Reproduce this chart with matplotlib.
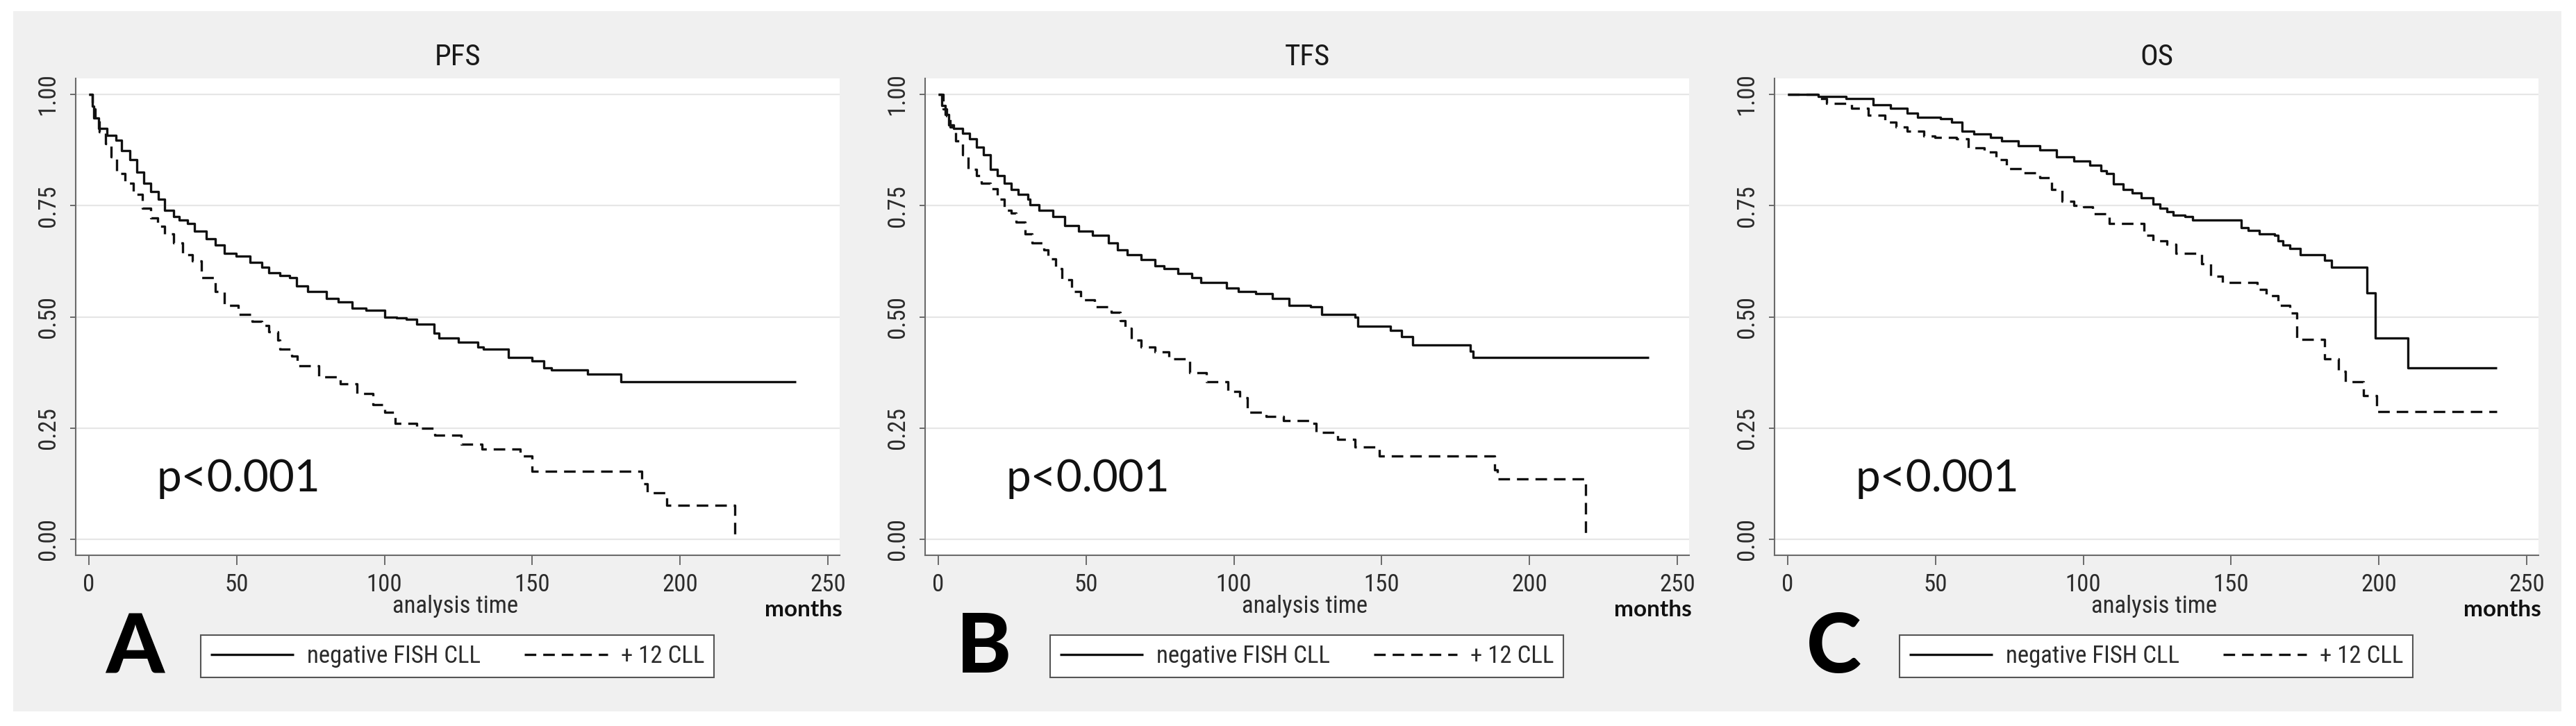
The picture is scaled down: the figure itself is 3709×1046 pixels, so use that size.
import matplotlib
matplotlib.use("Agg")
import matplotlib.pyplot as plt
from matplotlib.patches import Rectangle
from matplotlib import font_manager
from matplotlib.font_manager import FontProperties

# ---------------- data ----------------
titles = ["PFS", "TFS", "OS"]
panel_letters = ["A", "B", "C"]
legend_labels = ["negative FISH CLL", "+ 12 CLL"]
x_ticks = [0, 50, 100, 150, 200, 250]
y_ticks = [0.00, 0.25, 0.50, 0.75, 1.00]
y_ticklabels = ["0.00", "0.25", "0.50", "0.75", "1.00"]
p_text = "p<0.001"

pfs_neg_t = [0, 0.6, 1.1, 1.6, 3.2, 6.0, 9.1, 11.0, 13.8, 16.1, 18.5, 20.8, 23.6, 25.5, 28.7, 30.6,
             33.4, 35.7, 39.6, 42.7, 45.9, 49.8, 54.5, 58.4, 60.8, 64.7, 67.8, 70.2, 74.1, 80.4,
             84.3, 89.0, 93.7, 100.0, 104.0, 107.4, 111, 116.7, 118.5, 125, 131.5, 133.4, 141.8,
             150, 154, 156.6, 168.7, 180, 239.3]
pfs_neg_s = [1.0, 1.0, 0.973, 0.947, 0.923, 0.908, 0.897, 0.874, 0.853, 0.825, 0.801, 0.781, 0.765,
             0.739, 0.726, 0.718, 0.710, 0.692, 0.676, 0.661, 0.643, 0.637, 0.622, 0.612, 0.599,
             0.593, 0.588, 0.570, 0.557, 0.541, 0.533, 0.520, 0.515, 0.500, 0.497, 0.494, 0.484,
             0.464, 0.453, 0.443, 0.432, 0.427, 0.409, 0.401, 0.385, 0.380, 0.372, 0.354, 0.354]

pfs_tri_t = [0, 0.6, 1.2, 2.0, 3.6, 5.6, 7.5, 9.5, 12.2, 15.0, 18.1, 20.8, 23.2, 25.5, 28.7, 31.8,
             34.9, 38.1, 42.8, 45.9, 50.6, 55.3, 58.4, 60.8, 63.9, 64.7, 68.6, 70.5, 77.7, 85,
             90.7, 96, 100, 103.7, 111, 117, 126, 133, 146, 150, 185.4, 187, 189, 195.6, 218.5]
pfs_tri_s = [1.0, 1.0, 0.968, 0.944, 0.916, 0.890, 0.859, 0.822, 0.801, 0.775, 0.744, 0.723, 0.703,
             0.687, 0.666, 0.640, 0.625, 0.588, 0.557, 0.526, 0.505, 0.490, 0.481, 0.466, 0.448,
             0.428, 0.412, 0.390, 0.365, 0.349, 0.328, 0.302, 0.286, 0.260, 0.250, 0.234, 0.214,
             0.203, 0.1875, 0.153, 0.153, 0.125, 0.104, 0.076, 0.0]

tfs_neg_t = [0, 0.8, 1.2, 2.35, 3.5, 5.1, 8.2, 10.6, 12.9, 15.3, 17.6, 20.0, 22.3, 24.7, 27.0, 30.2,
             30.9, 34.1, 38.8, 42.7, 47.4, 52.1, 57.6, 60.7, 63.8, 68.5, 73.2, 76.4, 81.1, 85.8,
             88.9, 94.4, 97.5, 101.4, 107.4, 113, 118.6, 126, 129.7, 141, 141.8, 151, 153, 156.7,
             160.4, 175.3, 180, 180.9, 240.3]
tfs_neg_s = [1.0, 1.0, 0.975, 0.954, 0.931, 0.923, 0.913, 0.900, 0.882, 0.864, 0.832, 0.817, 0.801,
             0.786, 0.775, 0.765, 0.752, 0.739, 0.726, 0.705, 0.692, 0.684, 0.666, 0.650, 0.640,
             0.629, 0.614, 0.609, 0.598, 0.588, 0.577, 0.577, 0.564, 0.557, 0.552, 0.542, 0.526,
             0.523, 0.505, 0.500, 0.479, 0.479, 0.469, 0.455, 0.4375, 0.4375, 0.422, 0.409, 0.409]

tfs_tri_t = [0, 0.8, 1.6, 2.75, 3.9, 5.9, 8.2, 10.2, 12.9, 14.5, 17.6, 20.0, 22.3, 24.7, 26.2, 29.4,
             31.7, 35.6, 37.2, 39.6, 41.9, 45.1, 48.2, 52.9, 58.4, 61.5, 63.1, 65.4, 68.6, 73.2,
             77.9, 85, 90.7, 98, 101.9, 104.6, 111, 116.7, 126, 127.9, 135, 140.9, 149.3, 185.5,
             188.3, 189.2, 219]
tfs_tri_s = [1.0, 1.0, 0.968, 0.952, 0.926, 0.895, 0.864, 0.832, 0.817, 0.801, 0.788, 0.765, 0.739,
             0.734, 0.713, 0.687, 0.666, 0.650, 0.630, 0.609, 0.583, 0.557, 0.539, 0.523, 0.510,
             0.492, 0.474, 0.448, 0.432, 0.421, 0.406, 0.375, 0.354, 0.333, 0.318, 0.286, 0.276,
             0.266, 0.260, 0.240, 0.224, 0.208, 0.1875, 0.1875, 0.156, 0.135, 0.0]

os_neg_t = [0, 10.3, 19.7, 29, 34.7, 40.4, 44, 51.6, 55.4, 59, 62.9, 68.5, 72.3, 77.9, 85.4, 91,
            96.7, 102.3, 106, 107.9, 110.3, 113.4, 116.5, 119.7, 123.6, 125.9, 128.3, 130.4, 134.5,
            136.9, 153.4, 155.7, 159.6, 164.7, 165.9, 167.5, 169.8, 173.3, 181.6, 183.9, 196.0,
            198.8, 209.8, 240]
os_neg_s = [1.0, 0.995, 0.990, 0.976, 0.969, 0.958, 0.948, 0.945, 0.9375, 0.917, 0.911, 0.904,
            0.896, 0.885, 0.875, 0.859, 0.851, 0.841, 0.828, 0.822, 0.799, 0.786, 0.778, 0.768,
            0.754, 0.744, 0.736, 0.728, 0.726, 0.718, 0.700, 0.695, 0.687, 0.684, 0.671, 0.661,
            0.653, 0.640, 0.627, 0.611, 0.554, 0.452, 0.385, 0.385]

os_tri_t = [0, 10.3, 13.1, 21.6, 27.2, 32.8, 36.6, 40.4, 46, 49.7, 57.2, 61, 66.6, 70.4, 74.1, 79.8,
            85.4, 89.2, 92.9, 96.7, 100.1, 103.2, 108.7, 120.5, 123.6, 128.3, 131.4, 140.1, 143.2,
            147.1, 158.9, 162.0, 165.9, 169.8, 172.2, 181.6, 186.3, 188.6, 194.9, 199.2, 240]
os_tri_s = [1.0, 0.990, 0.979, 0.969, 0.953, 0.9375, 0.927, 0.917, 0.906, 0.903, 0.900, 0.880, 0.870,
            0.854, 0.833, 0.823, 0.8125, 0.786, 0.760, 0.750, 0.747, 0.731, 0.710, 0.684, 0.671,
            0.663, 0.642, 0.619, 0.591, 0.578, 0.562, 0.547, 0.526, 0.508, 0.450, 0.406, 0.378,
            0.354, 0.323, 0.287, 0.287]

curves = [
    ((pfs_neg_t, pfs_neg_s), (pfs_tri_t, pfs_tri_s)),
    ((tfs_neg_t, tfs_neg_s), (tfs_tri_t, tfs_tri_s)),
    ((os_neg_t, os_neg_s), (os_tri_t, os_tri_s)),
]

# ---------------- fonts ----------------
flist = font_manager.fontManager.ttflist
avail = {f.name for f in flist}


def is_regular(f):
    return f.style == "normal" and f.weight in (400, "normal", "regular", "book")


narrow_file = None
for want in ["Liberation Sans Narrow", "Arial Narrow", "Roboto Condensed", "Open Sans Condensed"]:
    for f in flist:
        if f.name == want and is_regular(f):
            narrow_file = f.fname
            break
    if narrow_file:
        break
if narrow_file is None:
    for f in flist:
        if f.name == "Roboto" and is_regular(f) and "condensed" in str(f.stretch).lower():
            narrow_file = f.fname
            break


def nprop(size):
    if narrow_file:
        return FontProperties(fname=narrow_file, size=size)
    fam = [x for x in ["Liberation Sans", "DejaVu Sans"] if x in avail] or ["DejaVu Sans"]
    return FontProperties(family=fam, size=size * 0.9)


humanist = [f for f in ["Lato", "Open Sans", "DejaVu Sans"] if f in avail] or ["DejaVu Sans"]

# ---------------- figure ----------------
W, H = 3709, 1046
fig = plt.figure(figsize=(W / 100, H / 100), dpi=100)
fig.patch.set_facecolor("white")
fig.add_artist(Rectangle((19 / W, 21 / H), (3688 - 19) / W, 1009 / H,
                         transform=fig.transFigure, facecolor="#f0f0f0",
                         edgecolor="none", zorder=-10))

PX = 4.256          # pixels per month
XMIN, XMAX = -4.5, 254
YMIN, YMAX = -0.0359, 1.0359
spine_col = "#6a6a6a"
txt_col = "#2b2b2b"

for i in range(3):
    z = 128 + 1223 * i            # pixel position of x=0
    left = z + XMIN * PX
    width = (XMAX - XMIN) * PX
    ax = fig.add_axes([left / W, 246 / H, width / W, 687 / H])
    ax.set_facecolor("white")
    ax.set_xlim(XMIN, XMAX)
    ax.set_ylim(YMIN, YMAX)
    for s in ["top", "right"]:
        ax.spines[s].set_visible(False)
    for s in ["left", "bottom"]:
        ax.spines[s].set_color(spine_col)
        ax.spines[s].set_linewidth(1.5)
    ax.set_xticks(x_ticks)
    ax.set_yticks(y_ticks)
    ax.set_yticklabels(y_ticklabels, rotation=90, va="center")
    ax.yaxis.grid(True, color="#e6e6e6", linewidth=1.6, zorder=0)
    ax.set_axisbelow(True)
    ax.tick_params(axis="y", length=5.8, width=1.4, color=spine_col, pad=11,
                   labelcolor=txt_col)
    ax.tick_params(axis="x", length=10, width=1.4, color=spine_col, pad=9,
                   labelcolor=txt_col)
    for lab in ax.get_xticklabels() + ax.get_yticklabels():
        lab.set_fontproperties(nprop(25))

    (tn, sn), (tt, st) = curves[i]
    l1, = ax.plot(tn, sn, drawstyle="steps-post", color="#111111", lw=2.4,
                  solid_capstyle="butt", zorder=3, label=legend_labels[0])
    l2, = ax.plot(tt, st, drawstyle="steps-post", color="#111111", lw=2.4,
                  dashes=(5, 3), zorder=3, label=legend_labels[1])

    ax.text(22.8, 0.108, p_text, fontsize=46, family=humanist, color="#111111",
            va="baseline", ha="left", zorder=4)

    # title
    fig.text((z + 531) / W, (H - 82) / H, titles[i], fontproperties=nprop(31),
             color="#1a1a1a", ha="center", va="center")
    # axis labels
    fig.text((z + 528) / W, (H - 873) / H, "analysis time", fontproperties=nprop(25),
             color=txt_col, ha="center", va="center")
    fig.text((z + 1085) / W, (H - 878) / H, "months", fontsize=24, family=humanist,
             fontweight="bold", color="#111111", ha="right", va="center")
    # panel letter
    fig.text((z + 66) / W, (H - 969) / H, panel_letters[i], fontsize=86, family=humanist,
             fontweight="black", color="black", ha="center", va="baseline")
    # legend
    leg = ax.legend(handles=[l1, l2], labels=legend_labels, ncol=2, loc="center",
                    bbox_to_anchor=((z + 161) / W, 69 / H, 739 / W, 63 / H),
                    bbox_transform=fig.transFigure, mode="expand", borderaxespad=0,
                    fancybox=False, framealpha=1, facecolor="white", edgecolor="#555555",
                    prop=nprop(25), handlelength=3.45,
                    handletextpad=0.55, borderpad=0.4, columnspacing=1.5)
    leg.get_frame().set_linewidth(1.5)
    for t in leg.get_texts():
        t.set_color(txt_col)

fig.savefig("out.png", dpi=100, facecolor="white")
